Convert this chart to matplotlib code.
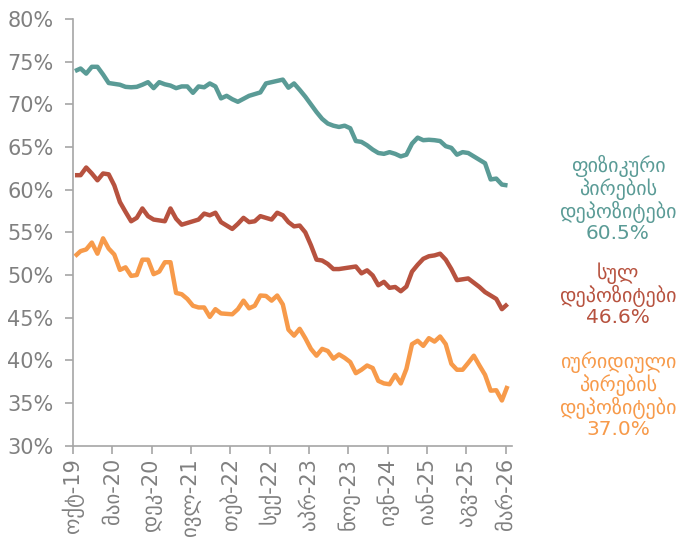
import numpy as np
import matplotlib
matplotlib.use("Agg")
import matplotlib.pyplot as plt
from matplotlib.ticker import FuncFormatter

# monthly shares (%), Oct-2019 .. Mar-2026
individuals = [
    73.9, 74.2, 73.6, 74.4, 74.4, 73.5, 72.5, 72.4, 72.3, 72.05,
    72.0, 72.05, 72.3, 72.6, 71.9, 72.6, 72.35, 72.2, 71.9, 72.1,
    72.1, 71.35, 72.1, 72.0, 72.45, 72.1, 70.7, 71.0, 70.6, 70.3,
    70.65, 71.0, 71.2, 71.4, 72.45, 72.6, 72.75, 72.9, 71.95, 72.45,
    71.7, 70.9, 70.0, 69.1, 68.3, 67.75, 67.5, 67.35, 67.5, 67.2,
    65.7, 65.6, 65.2, 64.7, 64.3, 64.2, 64.4, 64.2, 63.9, 64.1,
    65.4, 66.1, 65.8, 65.85, 65.8, 65.7, 65.1, 64.9, 64.1, 64.4,
    64.3, 63.9, 63.5, 63.1, 61.2, 61.3, 60.6, 60.5,
]
total = [
    61.7, 61.7, 62.6, 61.9, 61.1, 61.9, 61.8, 60.5, 58.55, 57.4,
    56.3, 56.7, 57.8, 56.9, 56.5, 56.4, 56.3, 57.8, 56.6, 55.9,
    56.1, 56.3, 56.5, 57.2, 57.0, 57.3, 56.2, 55.8, 55.4, 56.0,
    56.7, 56.2, 56.3, 56.9, 56.7, 56.5, 57.3, 57.0, 56.2, 55.7,
    55.8, 55.0, 53.5, 51.8, 51.7, 51.3, 50.7, 50.7, 50.8, 50.9,
    51.0, 50.2, 50.55, 49.95, 48.8, 49.2, 48.5, 48.6, 48.1, 48.65,
    50.4, 51.2, 51.9, 52.2, 52.3, 52.5, 51.8, 50.7, 49.4, 49.5,
    49.6, 49.1, 48.6, 48.0, 47.6, 47.2, 46.0, 46.6,
]
legal = [
    52.2, 52.8, 53.0, 53.8, 52.5, 54.3, 53.1, 52.4, 50.6, 50.9,
    49.9, 50.0, 51.8, 51.8, 50.1, 50.4, 51.5, 51.5, 47.9, 47.75,
    47.2, 46.4, 46.2, 46.2, 45.1, 46.0, 45.5, 45.45, 45.4, 46.0,
    47.0, 46.1, 46.4, 47.6, 47.55, 47.0, 47.6, 46.55, 43.6, 42.9,
    43.7, 42.6, 41.35, 40.55, 41.35, 41.1, 40.2, 40.7, 40.3, 39.8,
    38.5, 38.9, 39.4, 39.1, 37.6, 37.3, 37.2, 38.3, 37.3, 39.0,
    41.9, 42.3, 41.7, 42.6, 42.2, 42.8, 41.9, 39.6, 38.9, 38.9,
    39.7, 40.55, 39.4, 38.3, 36.45, 36.5, 35.3, 37.0,
]
tick_labels = ["ოქტ-19", "მაი-20", "დეკ-20", "ივლ-21", "თებ-22", "სექ-22",
               "აპრ-23", "ნოე-23", "ივნ-24", "იან-25", "აგვ-25", "მარ-26"]
series_names = ["ფიზიკური\nპირების\nდეპოზიტები",
                "სულ\nდეპოზიტები",
                "იურიდიული\nპირების\nდეპოზიტები"]

colors = ["#5a9b96", "#b7523f", "#f79a4a"]
grey = "#808080"

plt.rcParams['font.family'] = ['DejaVu Sans']

fig = plt.figure(figsize=(6.92, 5.37), dpi=100)
ax = fig.add_axes([0.1055, 0.170, 0.634, 0.7946])

x = np.arange(len(total)) + 0.35
for vals, c in zip([individuals, total, legal], colors):
    ax.plot(x, vals, color=c, lw=3.2, solid_joinstyle='round', solid_capstyle='butt')

ax.set_ylim(30, 80)
ax.set_yticks(np.arange(30, 81, 5))
ax.yaxis.set_major_formatter(FuncFormatter(lambda v, p: f"{v:.0f}%"))
ax.set_xlim(0, 78.1)
ax.set_xticks(np.arange(0, 78, 7))
ax.set_xticklabels(tick_labels, rotation=90)

for s in ["top", "right"]:
    ax.spines[s].set_visible(False)
for s in ["left", "bottom"]:
    ax.spines[s].set_color("#a6a6a6")
    ax.spines[s].set_linewidth(1.2)
ax.tick_params(axis="both", colors="#a6a6a6", labelcolor=grey, labelsize=15,
               length=6, width=1.2)
ax.tick_params(axis="y", pad=8)
ax.tick_params(axis="x", pad=3)

# end labels
last = [individuals[-1], total[-1], legal[-1]]
ypos = [199, 295, 395]
for name, v, c, yp in zip(series_names, last, colors, ypos):
    fig.text(618 / 692, 1 - yp / 537, f"{name}\n{v:.1f}%", color=c, fontsize=14.5,
             ha="center", va="center", multialignment="center", linespacing=1.06)

fig.savefig("out.png", dpi=100)
